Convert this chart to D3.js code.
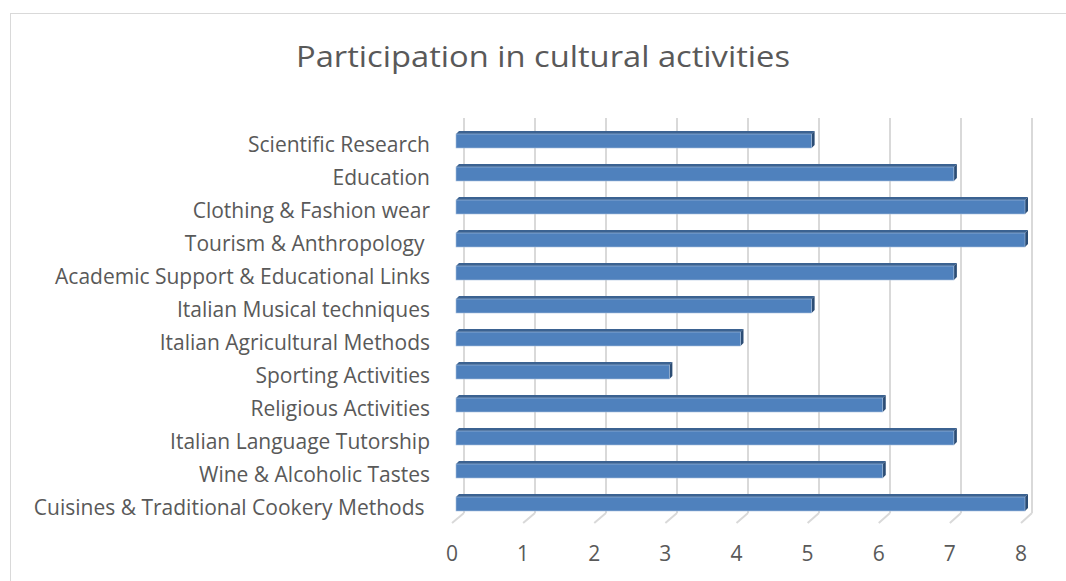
<!DOCTYPE html>
<html>
<head>
<meta charset="utf-8">
<script src="https://cdn.jsdelivr.net/npm/d3@7"></script>
<style>
  body { margin: 0; background: #fff; }
  text { font-family: "Open Sans", sans-serif; fill: #595959; }
</style>
</head>
<body>
<div id="barChart"></div>
<script>
// data, top to bottom
const categories = [
    "Scientific Research",
    "Education",
    "Clothing & Fashion wear",
    "Tourism & Anthropology ",
    "Academic Support & Educational Links",
    "Italian Musical techniques",
    "Italian Agricultural Methods",
    "Sporting Activities",
    "Religious Activities",
    "Italian Language Tutorship",
    "Wine & Alcoholic Tastes",
    "Cuisines & Traditional Cookery Methods "
];
const values = [5, 7, 8, 8, 7, 5, 4, 3, 6, 7, 6, 8];
const xTicks = [0, 1, 2, 3, 4, 5, 6, 7, 8];
const title = "Participation in cultural activities";

let svg = d3.select("#barChart")
    .append("svg")
    .attr("width", 1066)
    .attr("height", 581);

// chart frame
svg.append("rect")
    .attr("x", 10.5).attr("y", 13.5)
    .attr("width", 1070).attr("height", 580)
    .attr("fill", "none")
    .attr("stroke", "#d9d9d9");

svg.append("text")
    .attr("x", 543).attr("y", 67)
    .attr("text-anchor", "middle")
    .style("font-size", "30px")
    .attr("textLength", 494)
    .attr("lengthAdjust", "spacingAndGlyphs")
    .text(title);

// three scales for the 3d look: bar front, back wall, floor front
let x = d3.scaleLinear().domain([0, 8]).range([456, 1025]);
let xBack = d3.scaleLinear().domain([0, 8]).range([464, 1032]);
let xFloor = d3.scaleLinear().domain([0, 8]).range([452, 1021]);
let y = d3.scaleBand().domain(categories).range([124.5, 520.5]);
let barH = 14, barDepth = 3;
let floorFront = 523, floorBack = 513;

// back wall gridlines
svg.append("g").selectAll("line")
    .data(xTicks)
    .enter().append("line")
    .attr("x1", d => xBack(d)).attr("x2", d => xBack(d))
    .attr("y1", 118).attr("y2", floorBack)
    .attr("stroke", "#d9d9d9").attr("stroke-width", 2);

// floor lines
svg.append("g").selectAll("line")
    .data(xTicks)
    .enter().append("line")
    .attr("x1", d => xFloor(d)).attr("y1", floorFront)
    .attr("x2", d => xBack(d)).attr("y2", floorBack)
    .attr("stroke", "#d9d9d9").attr("stroke-width", 2);

// tick labels
svg.append("g").selectAll("text")
    .data(xTicks)
    .enter().append("text")
    .attr("x", d => xFloor(d))
    .attr("y", 561)
    .attr("text-anchor", "middle")
    .style("font-size", "21px")
    .text(d => d);

// bars
let bars = svg.append("g").selectAll("g")
    .data(categories)
    .enter().append("g");

let barTop = d => y(d) + (y.bandwidth() - barH) / 2;

bars.append("polygon")
    .attr("points", (d, i) => {
        let t = barTop(d), x0 = x(0), x1 = x(values[i]);
        return [[x0, t], [x0 + barDepth, t - barDepth], [x1 + barDepth, t - barDepth], [x1, t]].join(" ");
    })
    .attr("fill", "#3b6291");

bars.append("polygon")
    .attr("points", (d, i) => {
        let t = barTop(d), x1 = x(values[i]);
        return [[x1, t], [x1 + barDepth, t - barDepth], [x1 + barDepth, t + barH - barDepth], [x1, t + barH]].join(" ");
    })
    .attr("fill", "#2c4d75");

bars.append("rect")
    .attr("x", x(0))
    .attr("y", d => barTop(d))
    .attr("width", (d, i) => x(values[i]) - x(0))
    .attr("height", barH)
    .attr("fill", "#4f81bd")
    .attr("stroke", "#a7bfdd")
    .attr("stroke-width", 0.6);

// category labels
svg.append("g").selectAll("text")
    .data(categories)
    .enter().append("text")
    .attr("x", 430)
    .attr("y", d => y(d) + y.bandwidth() / 2 + 11)
    .attr("text-anchor", "end")
    .style("font-size", "21px")
    .style("white-space", "pre")
    .text(d => d);
</script>
</body>
</html>
